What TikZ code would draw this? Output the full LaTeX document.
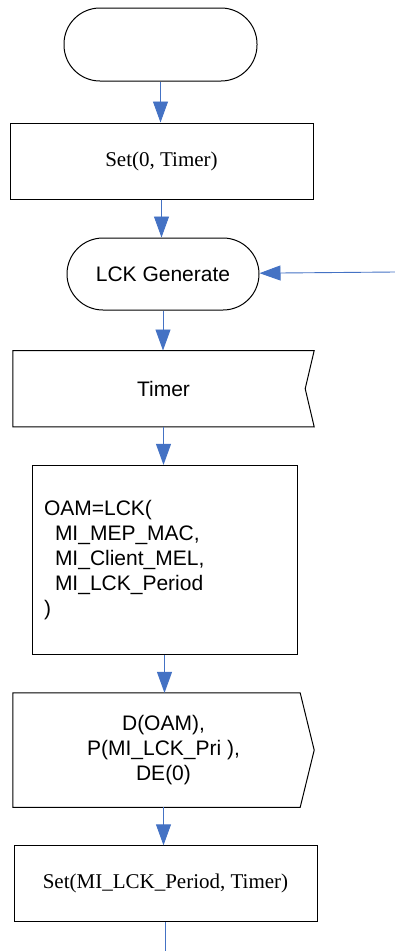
\documentclass[tikz,border=0pt]{standalone}
\usepackage{fontspec}
\setmainfont{Liberation Serif}
\setsansfont{Liberation Sans}
\usepackage{tikz}
\usetikzlibrary{positioning, arrows.meta}
\definecolor{flowblue}{HTML}{4472C4}

\begin{document}
\begin{tikzpicture}[x=1pt, y=-1pt, node distance=38pt]
        % Define block styles
        \tikzstyle{terminal} = [rectangle, draw, line width=1pt, rounded corners=36pt, minimum width=193pt, minimum height=73pt, font=\sffamily\fontsize{21}{25}\selectfont]
        \tikzstyle{block} = [rectangle, draw, line width=1pt, minimum width=303pt, minimum height=76pt, font=\fontsize{21}{25}\selectfont]
        \tikzstyle{signalbox} = [rectangle, minimum width=301pt, align=center, font=\sffamily\fontsize{21}{25}\selectfont]
        \tikzstyle{flow} = [draw=flowblue, line width=0.9pt, -{Triangle[length=21pt, width=15pt]}]

        \useasboundingbox (0,0) rectangle (395,951);

        % Place nodes
        \node [terminal] (start) at (160.5,44.5) {};
        \node [block, below=41pt of start, xshift=1pt] (set_zero) {Set(0, Timer)};
        \node [terminal, minimum width=192pt, minimum height=72pt, below=of set_zero, xshift=1.5pt] (lck_generate) {LCK Generate};
        \node [signalbox, minimum height=76pt, below=40pt of lck_generate, xshift=0.5pt] (timer) {Timer};
        \node [block, minimum width=265pt, minimum height=189pt, text width=241pt, inner xsep=12pt, align=left, font=\sffamily\fontsize{21}{25}\selectfont, below=of timer, xshift=1pt] (oam_lck) {OAM=LCK(\\\hspace*{11pt}MI\_MEP\_MAC,\\\hspace*{11pt}MI\_Client\_MEL,\\\hspace*{11pt}MI\_LCK\_Period\\)};
        \node [signalbox, minimum height=114pt, below=of oam_lck, xshift=-1pt] (send_oam) {D(OAM),\\P(MI\_LCK\_Pri ),\\DE(0)};
        \node [block, below=of send_oam, xshift=2pt] (set_period) {Set(MI\_LCK\_Period, Timer)};

        \coordinate (entry) at (395,272);
        \coordinate (exit) at (165,951);

        % Outline the signal shapes
        \draw [line width=1pt] (timer.north west) -- (timer.north east) -- ([xshift=-9pt]timer.east) -- (timer.south east) -- (timer.south west) -- cycle;
        \draw [line width=1pt] (send_oam.north west) -- ([xshift=-14pt]send_oam.north east) -- (send_oam.east) -- ([xshift=-14pt]send_oam.south east) -- (send_oam.south west) -- cycle;

        % Draw connections as arrows
        \draw [flow] (start) -- (start |- set_zero.north);
        \draw [flow] (set_zero) -- (set_zero |- lck_generate.north);
        \draw [flow] (entry) -- (lck_generate);
        \draw [flow] (lck_generate) -- (lck_generate |- timer.north);
        \draw [flow] (timer) -- (timer |- oam_lck.north);
        \draw [flow] (oam_lck) -- (oam_lck |- send_oam.north);
        \draw [flow] (send_oam) -- (send_oam |- set_period.north);
        \draw [draw=flowblue, line width=0.9pt] (set_period) -- (set_period |- exit);
    \end{tikzpicture}
\end{document}
